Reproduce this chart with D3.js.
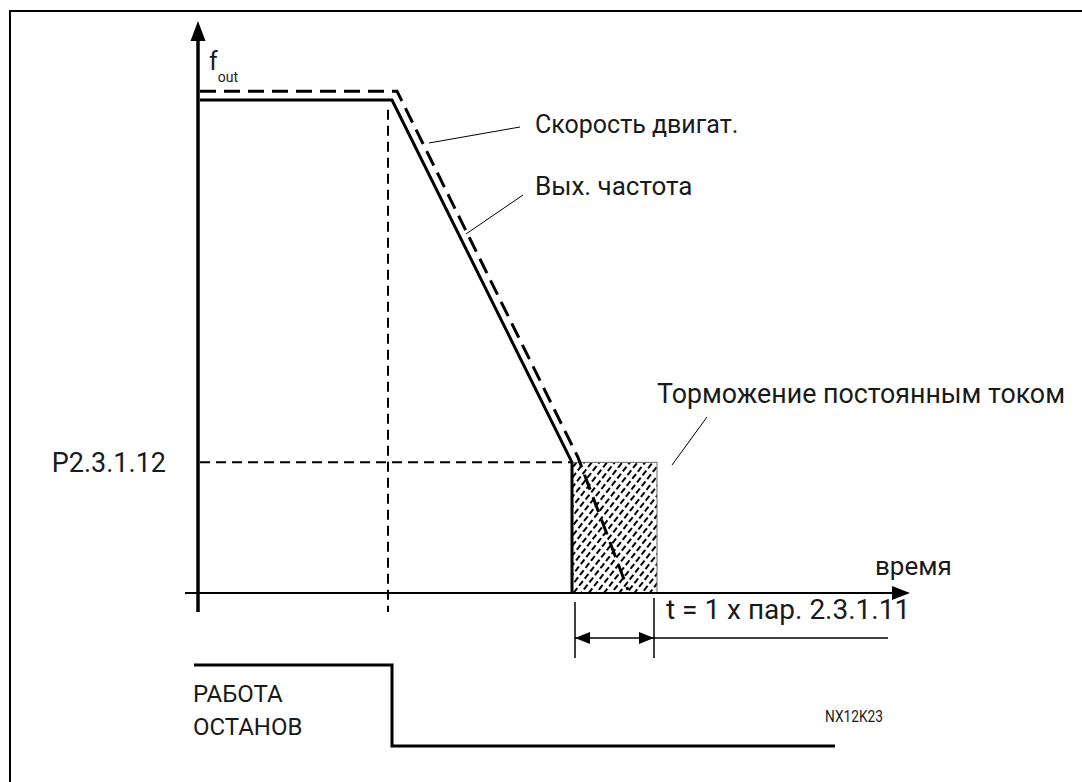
<!DOCTYPE html>
<html>
<head>
<meta charset="utf-8">
<script src="https://d3js.org/d3.v7.min.js"></script>
<style>
  body { margin: 0; background: #fff; }
  svg { display: block; }
  text { font-family: Roboto, "DejaVu Sans", sans-serif; fill: #1a1a1a; }
</style>
</head>
<body>
<script>
// time axis units (arbitrary), frequency in % of max
const outFreq = [{t: 0, f: 100}, {t: 19.2, f: 100}, {t: 37.2, f: 26.5}];
const motorSpeed = [{t: 0, f: 101.8}, {t: 19.7, f: 101.8}, {t: 37.8, f: 27.5}, {t: 42.8, f: 0.6}];
const stopT = 18.8;
const brakeStart = 37.2;
const brakeEnd = 45.7;
const brakeFreq = 26.5;
const runSignal = [{t: -0.6, s: 1}, {t: 19.2, s: 1}, {t: 19.2, s: 0}, {t: 63.5, s: 0}];
const labels = {
  speed: "Скорость двигат.",
  freq: "Вых. частота",
  brake: "Торможение постоянным током",
  time: "время",
  level: "P2.3.1.12",
  dur: "t = 1 x пар. 2.3.1.11",
  run: "РАБОТА",
  stop: "ОСТАНОВ",
  code: "NX12K23"
};

const W = 1082, H = 782;
const x = d3.scaleLinear().domain([0, 70]).range([200, 900]);
const y = d3.scaleLinear().domain([0, 100]).range([593, 100]);
const ys = d3.scaleLinear().domain([0, 1]).range([746, 665]);

const svg = d3.select("body").append("svg").attr("width", W).attr("height", H);

const defs = svg.append("defs");
const pat = defs.append("pattern").attr("id", "hatch")
  .attr("patternUnits", "userSpaceOnUse").attr("width", 6).attr("height", 9)
  .attr("patternTransform", "rotate(38)");
pat.append("line").attr("x1", 1).attr("y1", 0).attr("x2", 1).attr("y2", 9)
  .attr("stroke", "#000").attr("stroke-width", 2).attr("stroke-dasharray", "6,3");

const g = svg.append("g");

// frame (top and left)
g.append("line").attr("x1", 9).attr("y1", 11).attr("x2", W).attr("y2", 11).attr("stroke", "#000").attr("stroke-width", 2);
g.append("line").attr("x1", 10).attr("y1", 10).attr("x2", 10).attr("y2", H).attr("stroke", "#000").attr("stroke-width", 2);

// hatched DC brake area
g.append("rect")
  .attr("x", x(brakeStart)).attr("y", y(brakeFreq))
  .attr("width", x(brakeEnd) - x(brakeStart)).attr("height", y(0) - y(brakeFreq))
  .attr("fill", "url(#hatch)").attr("stroke", "#666").attr("stroke-width", 1);
g.append("line")
  .attr("x1", x(brakeStart)).attr("x2", x(brakeStart))
  .attr("y1", y(brakeFreq)).attr("y2", y(0))
  .attr("stroke", "#000").attr("stroke-width", 3);

// helper dashed lines
g.append("line")
  .attr("x1", x(stopT)).attr("x2", x(stopT)).attr("y1", y(98)).attr("y2", 612)
  .attr("stroke", "#000").attr("stroke-width", 2).attr("stroke-dasharray", "10,6");
g.append("line")
  .attr("x1", x(0)).attr("x2", x(brakeStart)).attr("y1", y(brakeFreq)).attr("y2", y(brakeFreq))
  .attr("stroke", "#000").attr("stroke-width", 2).attr("stroke-dasharray", "10,6");

// axes
g.append("line").attr("x1", 185).attr("x2", x(69.3)).attr("y1", y(0)).attr("y2", y(0))
  .attr("stroke", "#000").attr("stroke-width", 2);
g.append("path")
  .attr("d", `M${x(70) + 10},${y(0)} L${x(70) - 8},${y(0) - 7} L${x(70) - 8},${y(0) + 7} Z`)
  .attr("fill", "#000");
g.append("line").attr("x1", x(0) - 2).attr("x2", x(0) - 2).attr("y1", 612).attr("y2", 36)
  .attr("stroke", "#000").attr("stroke-width", 3.5);
g.append("path")
  .attr("d", `M${x(0) - 2},21 L${x(0) - 9.5},41 L${x(0) + 5.5},41 Z`)
  .attr("fill", "#000");

// curves
const line = d3.line().x(d => x(d.t)).y(d => y(d.f));
g.append("path").datum(outFreq).attr("d", line)
  .attr("fill", "none").attr("stroke", "#000").attr("stroke-width", 3);
g.append("path").datum(motorSpeed).attr("d", line)
  .attr("fill", "none").attr("stroke", "#000").attr("stroke-width", 3)
  .attr("stroke-dasharray", "16,8");

// axis labels
const fl = g.append("text").attr("x", 209).attr("y", 70).style("font-size", "25px");
fl.append("tspan").text("f");
fl.append("tspan").attr("dy", 12).attr("dx", 0).style("font-size", "14px").text("out");
g.append("text").attr("x", 875).attr("y", 575).style("font-size", "26px").text(labels.time);
g.append("text").attr("x", 166).attr("y", 472).attr("text-anchor", "end")
  .style("font-size", "27px").text(labels.level);

// leader lines + annotations
const leaders = [[429, 143, 520, 127], [466, 234, 523, 195], [672, 465, 707, 417]];
g.selectAll("line.leader").data(leaders).join("line").attr("class", "leader")
  .attr("x1", d => d[0]).attr("y1", d => d[1]).attr("x2", d => d[2]).attr("y2", d => d[3])
  .attr("stroke", "#000").attr("stroke-width", 1);
g.append("text").attr("x", 535).attr("y", 133).style("font-size", "25px").text(labels.speed);
g.append("text").attr("x", 535).attr("y", 195).style("font-size", "26px").text(labels.freq);
g.append("text").attr("x", 657).attr("y", 403).style("font-size", "27px")
  .attr("textLength", 408).attr("lengthAdjust", "spacingAndGlyphs").text(labels.brake);

// duration dimension
const dimY = 638;
g.append("line").attr("x1", x(brakeStart) + 3).attr("x2", x(brakeStart) + 3).attr("y1", 602).attr("y2", 658)
  .attr("stroke", "#000").attr("stroke-width", 1.5);
g.append("line").attr("x1", x(brakeEnd) - 3).attr("x2", x(brakeEnd) - 3).attr("y1", 598).attr("y2", 658)
  .attr("stroke", "#000").attr("stroke-width", 1.5);
g.append("line").attr("x1", x(brakeStart) + 3).attr("x2", 888).attr("y1", dimY).attr("y2", dimY)
  .attr("stroke", "#000").attr("stroke-width", 1.5);
const a0 = x(brakeStart) + 3, a1 = x(brakeEnd) - 3;
g.append("path").attr("d", `M${a0},${dimY} L${a0 + 15},${dimY - 6} L${a0 + 15},${dimY + 6} Z`).attr("fill", "#000");
g.append("path").attr("d", `M${a1},${dimY} L${a1 - 15},${dimY - 6} L${a1 - 15},${dimY + 6} Z`).attr("fill", "#000");
g.append("text").attr("x", 666).attr("y", 619).style("font-size", "28px").text(labels.dur);

// run/stop signal
const sline = d3.line().x(d => x(d.t)).y(d => ys(d.s));
g.append("path").datum(runSignal).attr("d", sline)
  .attr("fill", "none").attr("stroke", "#000").attr("stroke-width", 3);
g.append("text").attr("x", 193).attr("y", 702).style("font-size", "24px").text(labels.run);
g.append("text").attr("x", 193).attr("y", 735).style("font-size", "24px").text(labels.stop);
g.append("text").attr("x", 825).attr("y", 722).style("font-size", "17px")
  .attr("textLength", 58).attr("lengthAdjust", "spacingAndGlyphs").text(labels.code);
</script>
</body>
</html>
